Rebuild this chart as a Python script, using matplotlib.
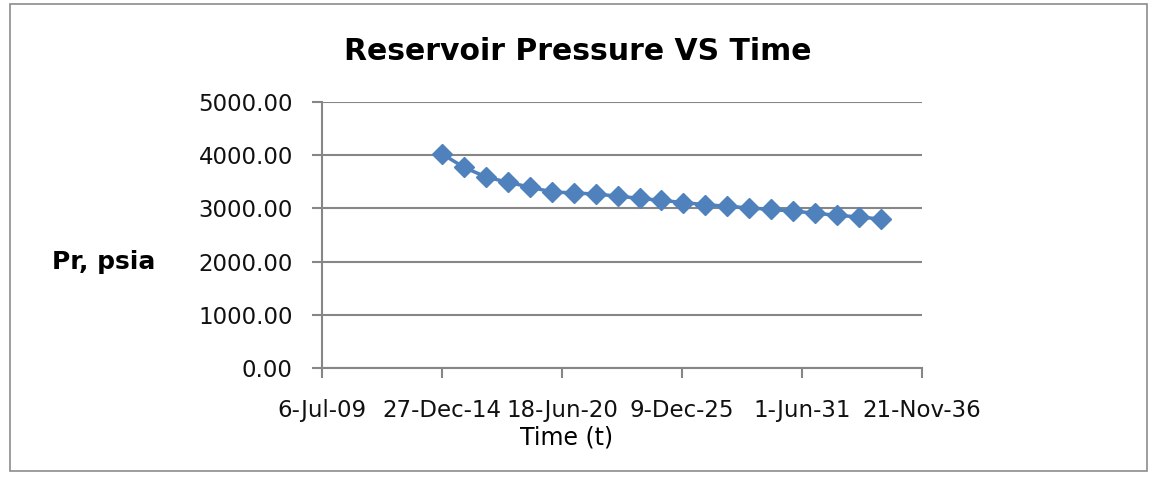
"""Reservoir pressure vs time, Excel-style line chart."""
import pandas as pd
import matplotlib.pyplot as plt
from matplotlib.patches import Rectangle

plt.rcParams["font.family"] = ["DejaVu Sans"]

# yearly dates, 2015 -> 2035
dates = pd.date_range("2015-01-01", periods=21, freq="YS")
pressure = [4020, 3770, 3590, 3490, 3400, 3310, 3290, 3270, 3230, 3190, 3150,
            3110, 3070, 3040, 3010, 2980, 2950, 2910, 2870, 2840, 2800]

# Excel axis: 6-Jul-09 to 21-Nov-36, major unit 2000 days
x_start = pd.Timestamp("2009-07-06")
x_ticks = [x_start + pd.Timedelta(days=2000 * i) for i in range(6)]
y_ticks = [0, 1000, 2000, 3000, 4000, 5000]

blue = "#4F81BD"
grid = "#868686"

fig = plt.figure(figsize=(11.5, 4.78), dpi=100)
ax = fig.add_axes([322 / 1150, 1 - 368 / 478, 600 / 1150, 266 / 478])

ax.plot(dates, pressure, color=blue, linewidth=2.5, marker="D",
        markersize=10.5, markerfacecolor=blue, markeredgecolor=blue, zorder=3)

ax.set_xlim(x_ticks[0], x_ticks[-1])
ax.set_ylim(0, 5000)
ax.set_xticks(x_ticks)
ax.set_xticklabels([f"{d.day}-{d.strftime('%b-%y')}" for d in x_ticks])
ax.set_yticks(y_ticks)
ax.set_yticklabels([f"{v:.2f}" for v in y_ticks])

ax.grid(True, axis="y", color=grid, linewidth=1.5)
ax.set_axisbelow(True)
for s in ("top", "right"):
    ax.spines[s].set_visible(False)
for s in ("left", "bottom"):
    ax.spines[s].set_color(grid)
    ax.spines[s].set_linewidth(1.5)
ax.tick_params(axis="both", color=grid, width=1.5, length=7, labelsize=16.5,
               labelcolor="#111111")
ax.tick_params(axis="x", pad=15)
ax.tick_params(axis="y", pad=14)

# axis titles and chart title placed like the Excel chart
fig.text(567 / 1150, 1 - 438 / 478, "Time (t)", fontsize=17,
         ha="center", va="center")
fig.text(104 / 1150, 1 - 262 / 478, "Pr, psia", fontsize=18, fontweight="bold",
         ha="center", va="center")
fig.text(578 / 1150, 1 - 52 / 478, "Reservoir Pressure VS Time", fontsize=21.5,
         fontweight="bold", ha="center", va="center")

# chart-area border
fig.patches.append(Rectangle((10 / 1150, 1 - 471 / 478), 1137 / 1150, 467 / 478,
                             transform=fig.transFigure, fill=False,
                             edgecolor="#8c8c8c", linewidth=1.2))

fig.savefig("out.png", dpi=100)
